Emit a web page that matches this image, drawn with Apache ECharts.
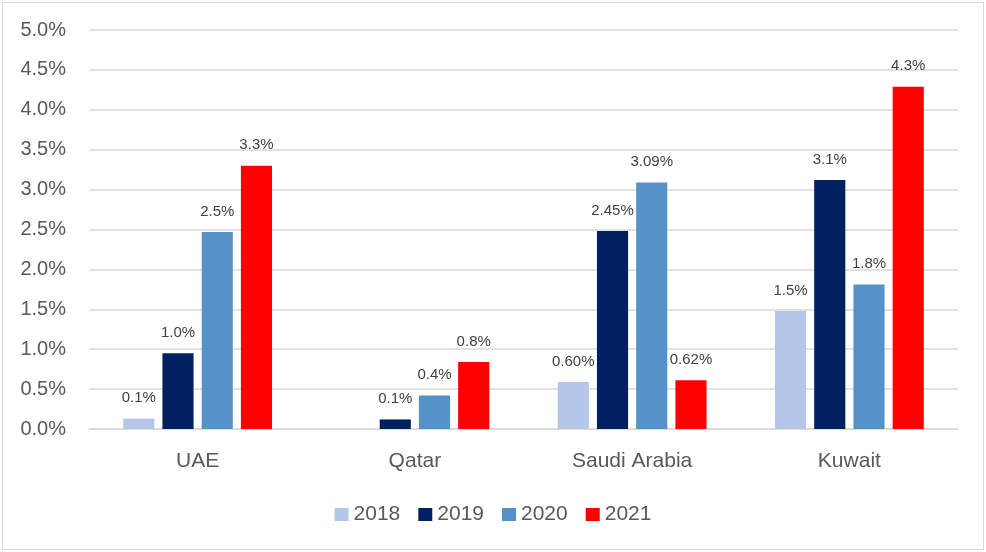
<!DOCTYPE html>
<html>
<head>
<meta charset="utf-8">
<script src="https://cdn.jsdelivr.net/npm/echarts@6/dist/echarts.min.js"></script>
<style>
    body { margin: 0; background: #ffffff; }
    #frame {
        position: absolute; left: 2px; top: 2px;
        width: 980px; height: 546px;
        border: 1px solid #d9d9d9;
    }
    #main { position: absolute; left: 0; top: 0; width: 986px; height: 552px; }
</style>
</head>
<body>
<div id="frame"></div>
<div id="main"></div>
<script>
    var countries = ['UAE', 'Qatar', 'Saudi Arabia', 'Kuwait'];
    var years = ['2018', '2019', '2020', '2021'];

    // bar heights in percent, null = no bar
    var v2018 = [0.13, null, 0.59, 1.48];
    var v2019 = [0.95, 0.12, 2.48, 3.12];
    var v2020 = [2.47, 0.42, 3.09, 1.81];
    var v2021 = [3.30, 0.84, 0.61, 4.29];

    // labels as printed above the bars
    var t2018 = ['0.1%', '', '0.60%', '1.5%'];
    var t2019 = ['1.0%', '0.1%', '2.45%', '3.1%'];
    var t2020 = ['2.5%', '0.4%', '3.09%', '1.8%'];
    var t2021 = ['3.3%', '0.8%', '0.62%', '4.3%'];

    var yTicks = ['0.0%', '0.5%', '1.0%', '1.5%', '2.0%', '2.5%', '3.0%', '3.5%', '4.0%', '4.5%', '5.0%'];

    var values = [v2018, v2019, v2020, v2021];
    var texts = [t2018, t2019, t2020, t2021];
    var colors = ['#b4c7e7', '#002060', '#5592c8', '#ff0000'];

    var chartDom = document.getElementById('main');
    var myChart = echarts.init(chartDom);
    var font = '"Liberation Sans", Arial, sans-serif';

    var series = years.map(function (y, i) {
        return {
            name: y,
            type: 'bar',
            data: values[i],
            barGap: '26%',
            barCategoryGap: '31.5%',
            itemStyle: { color: colors[i] },
            label: {
                show: true,
                position: 'top',
                distance: 13,
                color: '#404040',
                fontSize: 15,
                fontFamily: font,
                formatter: function (p) { return texts[i][p.dataIndex]; }
            }
        };
    });

    var option = {
        animation: false,
        grid: { left: 89, right: 28, top: 30, bottom: 123 },
        legend: {
            data: years,
            bottom: 22,
            left: 'center',
            icon: 'rect',
            itemWidth: 14,
            itemHeight: 13,
            itemGap: 18,
            textStyle: { color: '#595959', fontSize: 21, fontFamily: font }
        },
        xAxis: {
            type: 'category',
            data: countries,
            axisLine: { lineStyle: { color: '#d9d9d9', width: 1.5 } },
            axisTick: { show: false },
            axisLabel: { color: '#595959', fontSize: 21, fontFamily: font, margin: 22 }
        },
        yAxis: {
            type: 'value',
            min: 0,
            max: 5,
            interval: 0.5,
            axisLine: { show: false },
            axisTick: { show: false },
            splitLine: { lineStyle: { color: '#d9d9d9', width: 1.5 } },
            axisLabel: {
                color: '#595959', fontSize: 20, fontFamily: font, margin: 23,
                formatter: function (v) { return yTicks[Math.round(v / 0.5)]; }
            }
        },
        series: series
    };

    myChart.setOption(option);
</script>
</body>
</html>
